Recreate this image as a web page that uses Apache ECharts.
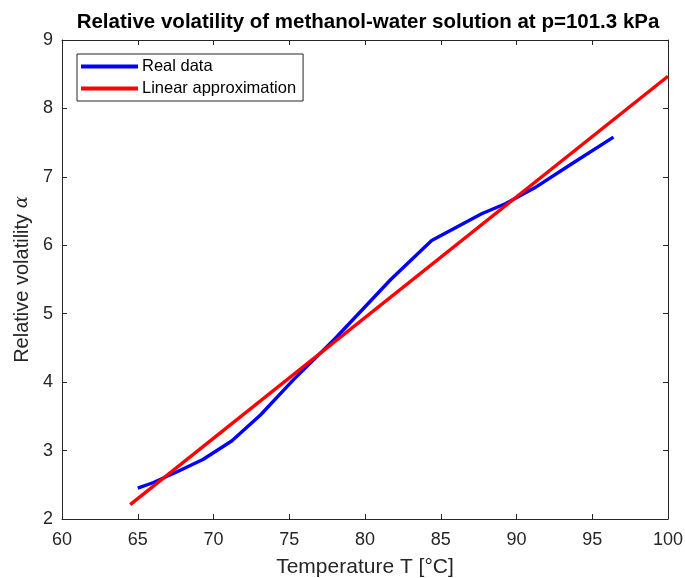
<!DOCTYPE html>
<html><head><meta charset="utf-8">
<script src="https://cdn.jsdelivr.net/npm/echarts@6/dist/echarts.min.js"></script>
<style>html,body{margin:0;padding:0;background:#fff}#c{width:685px;height:578px}</style>
</head><body><div id="c"></div>
<script>
const tempReal = [65.0, 66.0, 67.6, 69.3, 71.2, 73.1, 75.3, 78.0, 81.7, 84.4, 87.7, 89.3, 91.2, 93.5, 96.4];
const alphaReal = [2.45, 2.53, 2.69, 2.87, 3.14, 3.52, 4.04, 4.63, 5.50, 6.07, 6.46, 6.61, 6.84, 7.17, 7.58];
const tempLin = [64.5, 100];
const alphaLin = [2.21, 8.47];
const xTicks = [60, 65, 70, 75, 80, 85, 90, 95, 100];
const yTicks = [2, 3, 4, 5, 6, 7, 8, 9];

const chart = echarts.init(document.getElementById('c'), null, {renderer: 'canvas'});
const axCol = '#262626';
const font = 'Liberation Sans, Arial, sans-serif';
const baseAxis = {
  type: 'value', splitLine: {show: false},
  axisLine: {show: true, lineStyle: {color: axCol, width: 1}},
  axisTick: {show: true, inside: true, length: 5, lineStyle: {color: axCol}},
};
chart.setOption({
  animation: false,
  title: {text: 'Relative volatility of methanol-water solution at p=101.3 kPa', left: 363, top: 7, textAlign: 'center',
    textStyle: {fontFamily: font, fontWeight: 'bold', fontSize: 20.5, color: '#000'}},
  grid: {left: 62, top: 40, width: 606, height: 479, containLabel: false, outerBoundsMode: 'none'},
  legend: {orient: 'vertical', left: 77, top: 54, itemWidth: 57, itemHeight: 4, itemGap: 5,
    borderColor: axCol, borderWidth: 1, borderRadius: 0, padding: [4, 7, 4, 4],
    backgroundColor: '#fff', icon: 'rect',
    textStyle: {fontFamily: font, fontSize: 16.5, color: '#000', padding: [0, 0, 0, -1]},
    data: ['Real data', 'Linear approximation']},
  xAxis: [
    Object.assign({}, baseAxis, {min: 60, max: 100, interval: 5, position: 'bottom',
      axisLabel: {fontFamily: font, fontSize: 18, color: axCol, margin: 12,
        formatter: v => xTicks.includes(v) ? String(v) : ''},
      name: 'Temperature T [°C]', nameLocation: 'middle', nameGap: 38,
      nameTextStyle: {fontFamily: font, fontSize: 21, color: axCol}}),
    Object.assign({}, baseAxis, {min: 60, max: 100, interval: 5, position: 'top', axisLabel: {show: false}})
  ],
  yAxis: [
    Object.assign({}, baseAxis, {min: 2, max: 9, interval: 1, position: 'left',
      axisLabel: {fontFamily: font, fontSize: 18, color: axCol, margin: 9, padding: [5, 0, 0, 0],
        formatter: v => yTicks.includes(v) ? String(v) : ''},
      name: 'Relative volatility {a|α}', nameLocation: 'middle', nameGap: 25, nameRotate: 90,
      nameTextStyle: {fontFamily: font, fontSize: 20, color: axCol,
        rich: {a: {fontFamily: 'DejaVu Serif, serif', fontStyle: 'italic', fontSize: 18, color: axCol}}}}),
    Object.assign({}, baseAxis, {min: 2, max: 9, interval: 1, position: 'right', axisLabel: {show: false}})
  ],
  series: [
    {name: 'Real data', type: 'line', symbol: 'none', smooth: false, color: '#0000ff',
      lineStyle: {width: 3.4, color: '#0000ff'},
      data: tempReal.map((t, i) => [t, alphaReal[i]])},
    {name: 'Linear approximation', type: 'line', symbol: 'none', color: '#ff0000',
      lineStyle: {width: 3.4, color: '#ff0000'},
      data: tempLin.map((t, i) => [t, alphaLin[i]])}
  ]
});
</script></body></html>
